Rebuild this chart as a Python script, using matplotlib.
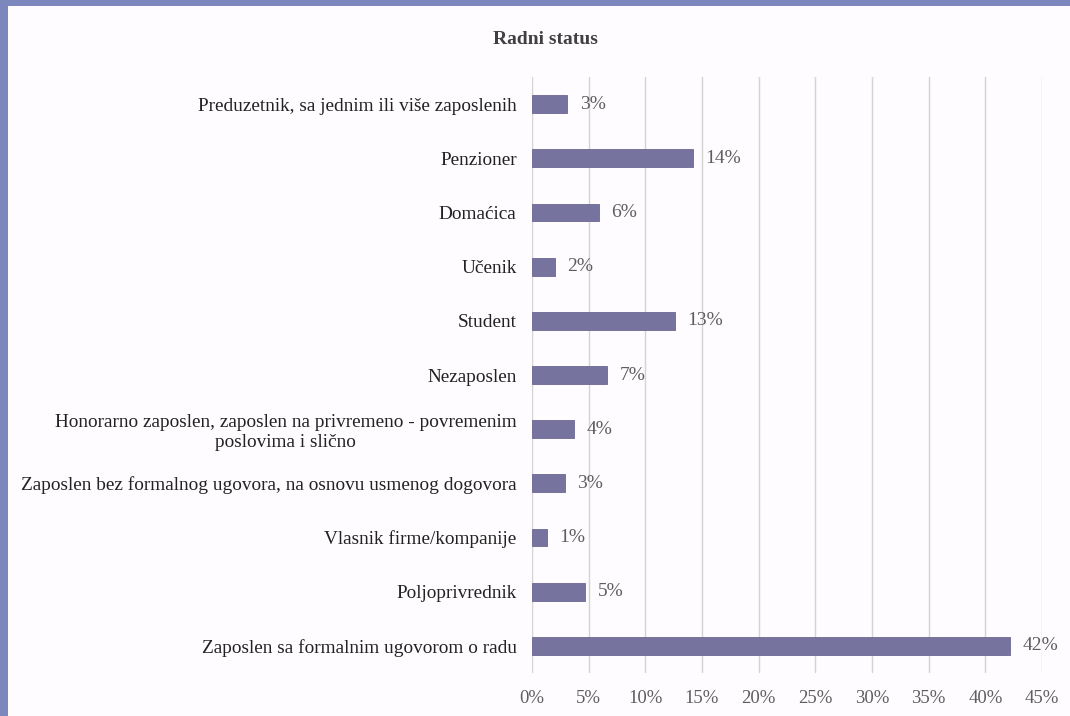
import matplotlib

matplotlib.use("Agg")
import matplotlib.pyplot as plt
from matplotlib.patches import Rectangle

# Data (top row first)
categories = [
    "Preduzetnik, sa jednim ili više zaposlenih",
    "Penzioner",
    "Domaćica",
    "Učenik",
    "Student",
    "Nezaposlen",
    "Honorarno zaposlen, zaposlen na privremeno - povremenim\nposlovima i slično",
    "Zaposlen bez formalnog ugovora, na osnovu usmenog dogovora",
    "Vlasnik firme/kompanije",
    "Poljoprivrednik",
    "Zaposlen sa formalnim ugovorom o radu",
]
values = [3.1, 14.2, 5.9, 2.0, 12.6, 6.6, 3.7, 2.9, 1.3, 4.7, 42.2]
value_labels = ["3%", "14%", "6%", "2%", "13%", "7%", "4%", "3%", "1%", "5%", "42%"]
x_ticks = [0, 5, 10, 15, 20, 25, 30, 35, 40, 45]

plt.rcParams["font.family"] = ["Liberation Serif", "DejaVu Serif"]

fig = plt.figure(figsize=(10.7, 7.16), dpi=100)
fig.patch.set_facecolor("#fefcfe")
# blue frame on the top and left edges
frame = "#7b87bd"
fig.patches.append(Rectangle((0, 1 - 6 / 716), 1, 6 / 716, transform=fig.transFigure,
                             facecolor=frame, edgecolor="none"))
fig.patches.append(Rectangle((0, 0), 8 / 1070, 1, transform=fig.transFigure,
                             facecolor=frame, edgecolor="none"))

ax = fig.add_axes([532 / 1070, 1 - 673 / 716, 510 / 1070, 596 / 716])
ax.set_facecolor("none")

ypos = list(range(len(categories)))
ax.barh(ypos, values, height=0.33, color="#77739f", edgecolor="#6c6894",
        linewidth=0.6, zorder=3)
for y, v, lab in zip(ypos, values, value_labels):
    ax.annotate(lab, (v, y), xytext=(9, 0), textcoords="offset points",
                va="center", ha="left", fontsize=14, color="#5e5e5e")

ax.set_xlim(0, 45)
ax.set_ylim(len(categories) - 0.5, -0.5)
ax.set_xticks(x_ticks)
ax.set_xticklabels([f"{t}%" for t in x_ticks], fontsize=13.5, color="#5e5e5e")
ax.set_yticks(ypos)
ax.set_yticklabels(categories, fontsize=13.9, color="#222222", multialignment="center",
                   linespacing=1.25)
ax.tick_params(axis="x", length=0, pad=12)
ax.tick_params(axis="y", length=0, pad=11)
ax.grid(axis="x", color="#d4d4d4", linewidth=1, zorder=0)
for s in ax.spines.values():
    s.set_visible(False)

fig.text(545 / 1070, 1 - 40 / 716, "Radni status", ha="center", va="center",
         fontsize=14, fontweight="bold", color="#404040")

fig.savefig("out.png", dpi=100, facecolor=fig.get_facecolor())
